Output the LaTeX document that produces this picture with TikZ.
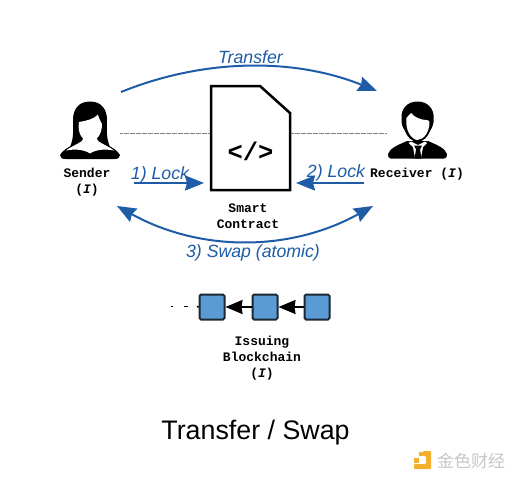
\documentclass[tikz,border=0pt]{standalone}
\usepackage{fontspec}
\setmainfont{Liberation Sans}
\setmonofont{Liberation Mono}
\newfontfamily\cjkwm{Noto Sans CJK SC}
\usetikzlibrary{arrows.meta}
\definecolor{flowblue}{HTML}{1F5CA8}
\definecolor{blockfill}{HTML}{5B9BD5}
\definecolor{blockedge}{HTML}{1B2733}
\definecolor{wmorange}{HTML}{F3B02C}
\tikzset{
  bigtip/.tip={Stealth[length=19pt,width=15pt,inset=2pt]},
  flow/.style={draw=flowblue,line width=2pt,-{bigtip}},
  flowboth/.style={draw=flowblue,line width=2pt,{bigtip}-{bigtip}},
  flowlabel/.style={text=flowblue,font=\fontsize{17.7}{20}\selectfont\itshape,inner sep=0pt},
  monolabel/.style={font=\fontsize{13}{16}\selectfont\ttfamily\bfseries,align=center,inner sep=0pt,text=black},
  dotline/.style={draw=black!50,line width=0.9pt,dash pattern=on 0.7pt off 0.5pt},
  blockbox/.style={draw=blockedge,fill=blockfill,line width=2pt,rounded corners=1.5pt,minimum width=25pt,minimum height=25pt,inner sep=0pt},
  chainarrow/.style={draw=black,line width=1.8pt,-{Stealth[length=17pt,width=14pt,inset=1pt]}},
}
\begin{document}
\begin{tikzpicture}[x=1pt,y=-1pt]
\useasboundingbox (0,0) rectangle (515,480);
\fill[white] (0,0) rectangle (515,480);

% sender (woman)
\fill[black] (90,101.500) .. controls (78,101.500) and (73,110) .. (73,120)
  .. controls (73,130) and (74,138) .. (70,147) -- (110,147)
  .. controls (106,138) and (107,130) .. (107,120)
  .. controls (107,110) and (102,101.500) .. (90,101.500) -- cycle;
\fill[black] (60,155) .. controls (62,151) and (68,147) .. (74,144.500) -- (106,144.500)
  .. controls (112,147) and (118,151) .. (120,155)
  .. controls (120,158) and (118,159) .. (114,159) -- (66,159)
  .. controls (62,159) and (60,158) .. (60,155) -- cycle;
\fill[white] (79,122) .. controls (86,121) and (94,119) .. (98,114.500)
  .. controls (99,119) and (101,122) .. (102,124)
  .. controls (102,134) and (97,141) .. (90,141.500)
  .. controls (83,141) and (77,134) .. (79,122) -- cycle;
\fill[white] (84,136) -- (96,136) -- (98,141) .. controls (102,144) and (110,147) .. (114,150.500)
  .. controls (104,148.500) and (95,150) .. (90,153.500)
  .. controls (85,150) and (76,148.500) .. (66,150.500)
  .. controls (70,147) and (78,144) .. (82,141) -- cycle;

% receiver (man)
\fill[black] (417.500,101.500) .. controls (407,101.500) and (401,109) .. (401.500,118)
  .. controls (401,124) and (403,128) .. (405,131)
  .. controls (407,137) and (412,141.500) .. (417.500,142)
  .. controls (423,141.500) and (428,137) .. (430,131)
  .. controls (432,128) and (434,124) .. (433.700,118)
  .. controls (434,109) and (428,101.500) .. (417.500,101.500) -- cycle;
\fill[white] (406.500,118) .. controls (408,116) and (410,114) .. (411,113)
  .. controls (414,117) and (421,120) .. (426,120)
  .. controls (428,120) and (429,120.500) .. (429.500,122)
  .. controls (429.500,132) and (424,139.500) .. (417.500,140)
  .. controls (411,139.500) and (405,130) .. (406.500,118) -- cycle;
\fill[black] (388,154) .. controls (390,148) and (398,145) .. (407,141)
  -- (428,141) .. controls (437,145) and (445,148) .. (447,154)
  .. controls (447.500,157) and (446,158.500) .. (444,158.500) -- (391,158.500)
  .. controls (389,158.500) and (387.500,157) .. (388,154) -- cycle;
\fill[white] (408.500,143) -- (411,141.500) -- (418,145) -- (425,141.500) -- (427,143) -- (423,147) -- (421,158) -- (415,158) -- (413,147) -- cycle;
\fill[black] (414,145.500) -- (422,145.500) -- (420,149.500) -- (421.500,158.500) -- (414.500,158.500) -- (416,149.500) -- cycle;

% document
\node[inner sep=0pt] (doc) at (250.500,138) {};
\draw[black,line width=2.5pt,line join=miter,fill=white] (211,86) -- (260,86) -- (290,113) -- (290,190) -- (211,190) -- cycle;
\node[font=\fontsize{25.500}{28}\selectfont\ttfamily\bfseries,inner sep=0pt] (code) at (250.500,151) {</>};

% anchors
\coordinate (transferA) at (121,92);
\coordinate (transferB) at (377,91);
\coordinate (swapA) at (117,206);
\coordinate (swapB) at (373,206);
\coordinate (lockA) at (134,183);
\coordinate (lockAend) at (204,183);
\coordinate (lockB) at (364,183);
\coordinate (lockBend) at (296,183);
\coordinate (senderDot) at (120,133);
\coordinate (docLeft) at (210,133);
\coordinate (docRight) at (291,133);
\coordinate (receiverDot) at (386,133);

\draw[dotline] (senderDot) -- (docLeft);
\draw[dotline] (docRight) -- (receiverDot);

\draw[flow] (transferA) .. controls (205,58) and (295,58) .. (transferB);
\draw[flowboth] (swapA) .. controls (200,252) and (290,252) .. (swapB);
\draw[flow] (lockA) -- (lockAend);
\draw[flow] (lockB) -- (lockBend);

\node[flowlabel] (ltransfer) at (250.500,57) {Transfer};
\node[flowlabel] (llock1) at (160,175) {1) Lock};
\node[flowlabel] (llock2) at (336,173) {2) Lock};
\node[flowlabel] (lswap) at (253,253) {3) Swap (atomic)};

\node[monolabel] (lsender) at (87,182) {Sender\\(\textit{I})};
\node[monolabel] (lreceiver) at (417,174) {Receiver (\textit{I})};
\node[monolabel] (lsmart) at (248,216) {Smart\\Contract};
\node[monolabel] (lissuing) at (262,358) {Issuing\\Blockchain\\(\textit{I})};

% chain
\node[blockbox] (b1) at (212,307) {};
\node[blockbox] (b2) at (265,307) {};
\node[blockbox] (b3) at (317,307) {};
\draw[chainarrow] (b2) -- (b1);
\draw[chainarrow] (b3) -- (b2);
\coordinate (d1) at (170.500,306.500);
\coordinate (d1e) at (172.500,306.500);
\coordinate (d2) at (184,306.500);
\coordinate (d2e) at (188,306.500);
\coordinate (d3) at (197,306.500);
\draw[black,line width=1.6pt] (d1) -- (d1e);
\draw[black,line width=1.6pt] (d2) -- (d2e);
\draw[black,line width=1.6pt] (d3) -- (b1.west);

% title
\node[inner sep=0pt,font=\fontsize{26.800}{30}\selectfont] (title) at (255.500,433) {Transfer / Swap};

% watermark
\fill[wmorange,rounded corners=0.8pt] (423,451) -- (431,451) -- (431,469) -- (414,469) -- (414,464) -- (426,464) -- (426,456) -- (423,456) -- cycle;
\fill[wmorange] (419,452) rectangle (423,456);
\fill[wmorange] (413.500,458) rectangle (419,463);
\node[inner sep=0pt,text=black!22,font=\cjkwm\fontsize{17}{18}\selectfont] (wm) at (471,461) {金色财经};
\end{tikzpicture}
\end{document}
